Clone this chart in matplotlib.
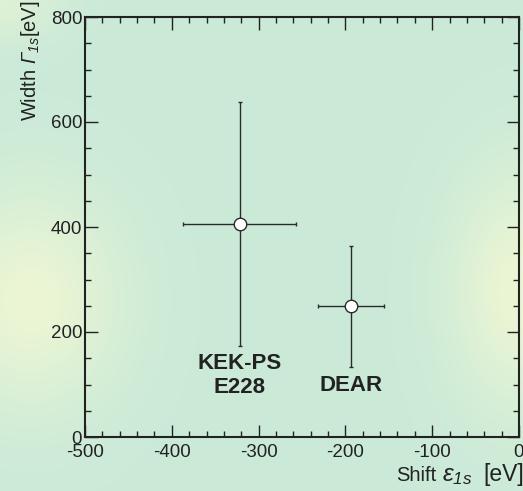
import numpy as np
import matplotlib.pyplot as plt
from matplotlib.ticker import MultipleLocator

# values
experiments = ["KEK-PS\nE228", "DEAR"]
shift = [-322, -193]
shift_err = [65, 38]
width = [406, 249]
width_err = [232, 115]
label_y = [160, 118]

plt.rcParams['font.family'] = ['Liberation Sans', 'DejaVu Sans']
plt.rcParams['mathtext.fontset'] = 'custom'
plt.rcParams['mathtext.rm'] = 'Liberation Sans:italic'
plt.rcParams['mathtext.it'] = 'Liberation Sans:italic'
plt.rcParams['axes.unicode_minus'] = False

W, H = 523, 491
fig = plt.figure(figsize=(W / 100, H / 100), dpi=100)

# soft green background with yellow glows at the sides
yy, xx = np.mgrid[0:H, 0:W]
base = np.array([202, 234, 216]) / 255.0
glow = np.array([236, 246, 212]) / 255.0
g1 = np.exp(-(((xx - 30) / 90.0) ** 2 + ((yy - 300) / 110.0) ** 2))
g2 = np.exp(-(((xx - 520) / 70.0) ** 2 + ((yy - 290) / 120.0) ** 2))
g3 = 0.6 * np.exp(-(((xx - 0) / 60.0) ** 2 + ((yy - 0) / 40.0) ** 2))
g = np.clip(g1 + g2 + g3, 0, 1)[..., None]
img = base * (1 - g) + glow * g
bg = fig.add_axes([0, 0, 1, 1], zorder=-1)
bg.imshow(img, aspect='auto')
bg.axis('off')

ax = fig.add_axes([85 / W, 1 - 437 / H, (519 - 85) / W, (437 - 17) / H])
ax.set_facecolor('none')

ax.errorbar(shift, width, xerr=shift_err, yerr=width_err, fmt='o',
            color='#2a2a2a', ecolor='#2a2a2a', elinewidth=1.0, capsize=1.5,
            capthick=1.0, markersize=9, markerfacecolor='white',
            markeredgecolor='#2a2a2a', markeredgewidth=1.0, zorder=3)

for name, x, y in zip(experiments, shift, label_y):
    ax.text(x, y, name, ha='center', va='top', fontsize=16,
            fontweight='bold', color='#222222', linespacing=1.2)

ax.set_xlim(-500, 0)
ax.set_ylim(0, 800)
ax.xaxis.set_major_locator(MultipleLocator(100))
ax.xaxis.set_minor_locator(MultipleLocator(20))
ax.yaxis.set_major_locator(MultipleLocator(200))
ax.yaxis.set_minor_locator(MultipleLocator(50))
ax.tick_params(which='both', direction='in', top=True, right=True,
               colors='#222222', labelsize=13.5)
ax.tick_params(which='major', length=9, width=1.0)
ax.tick_params(which='minor', length=4.5, width=1.0)
ax.tick_params(axis='x', pad=5)
ax.tick_params(axis='y', pad=2)
for s in ax.spines.values():
    s.set_linewidth(1.5)
    s.set_color('#222222')

# x label runs off the right edge, as in the reference
fig.text(396 / W, 1 - 481 / H, 'Shift', ha='left',
         va='baseline', fontsize=14.5, color='#222222')
fig.text(442 / W, 1 - 481 / H, r'$\varepsilon_{1s}$', ha='left',
         va='baseline', fontsize=17.5, color='#222222')
fig.text(483 / W, 1 - 481 / H, '[eV]', ha='left',
         va='baseline', fontsize=16.5, color='#222222')
fig.text(30 / W, 1 - 0 / H, r'Width $\Gamma_{1s}$[eV]', ha='center',
         va='top', rotation=90, fontsize=14.5, color='#222222')

fig.savefig('out.png', dpi=100)
